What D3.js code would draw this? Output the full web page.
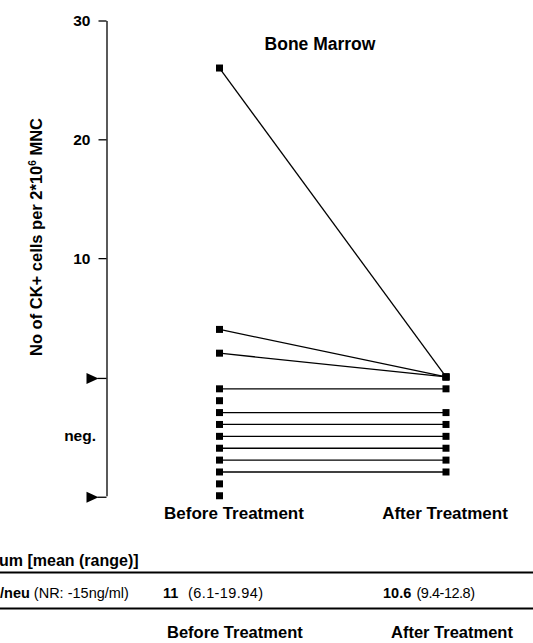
<!DOCTYPE html>
<html>
<head>
<meta charset="utf-8">
<script src="https://cdn.jsdelivr.net/npm/d3@7"></script>
<style>
  body { margin: 0; background: #fff; }
  svg { display: block; font-family: "Liberation Sans", Arial, Helvetica, sans-serif; }
  .domain, .tick line { stroke: #000; }
</style>
</head>
<body>
<svg id="chart"></svg>
<script>
// data (negative values = ranks inside the "neg." zone)
let groups = ["Before Treatment", "After Treatment"];
let before = [26, 4, 2, -1, -2, -3, -4, -5, -6, -7, -8, -9, -10];
let after  = [0, 0, 0, -1, null, -3, -4, -5, -6, -7, -8, null, null];
let yTicks = [10, 20, 30];
let arrowTicks = [0, -10];

// serum table below the plot
let tableHeader = "um [mean (range)]";
let rowName = ["/neu", " (NR: -15ng/ml)"];
let beforeMean = ["11", "(6.1-19.94)"];
let afterMean = ["10.6", "(9.4-12.8)"];

let width = 533, height = 643;
let svg = d3.select("#chart").attr("width", width).attr("height", height);

let x = d3.scalePoint()
  .domain(groups)
  .range([219.5, 446]);

let y = d3.scaleLinear()
  .domain([-10, 30])
  .range([495.75, 20.5]);

let axisX = 106.5;

// y axis
let yaxis = d3.axisLeft(y)
  .tickValues(yTicks)
  .tickSize(8)
  .tickSizeOuter(0)
  .tickPadding(8)
  .tickFormat(d3.format("d"));

let gy = svg.append("g")
  .attr("transform", `translate(${axisX},0)`)
  .call(yaxis);
gy.select(".domain").attr("stroke-width", 1.3);
gy.selectAll(".tick line").attr("stroke-width", 1.3);
gy.selectAll(".tick text")
  .attr("fill", "#000")
  .style("font-size", "15.5px")
  .style("font-weight", "bold");

// arrows marking the neg. zone
let arrows = svg.append("g").selectAll("g")
  .data(arrowTicks)
  .enter()
  .append("g")
  .attr("transform", d => `translate(${axisX},${y(d) + 1.5})`);
arrows.append("line")
  .attr("x1", -9).attr("x2", 0)
  .attr("stroke", "#000").attr("stroke-width", 1.3);
arrows.append("path")
  .attr("d", "M-20,-5.5L-8,0L-20,5.5Z")
  .attr("fill", "#000");

svg.append("text")
  .attr("x", 96)
  .attr("y", y(-5) + 5)
  .attr("text-anchor", "end")
  .style("font-size", "15.5px")
  .style("font-weight", "bold")
  .text("neg.");

// y label
let ylab = svg.append("text")
  .attr("transform", "translate(42,237) rotate(-90)")
  .attr("text-anchor", "middle")
  .style("font-size", "16.5px")
  .style("font-weight", "bold");
ylab.append("tspan").text("No of CK+ cells per 2*10");
ylab.append("tspan").attr("dy", -6).style("font-size", "10px").text("6");
ylab.append("tspan").attr("dy", 6).text(" MNC");

// title
svg.append("text")
  .attr("x", 320)
  .attr("y", 50)
  .attr("text-anchor", "middle")
  .style("font-size", "17.5px")
  .style("font-weight", "bold")
  .text("Bone Marrow");

// paired lines
let pairs = before.map((b, i) => ({b: b, a: after[i]})).filter(d => d.a !== null);
svg.append("g").selectAll("line")
  .data(pairs)
  .enter()
  .append("line")
  .attr("x1", x(groups[0])).attr("y1", d => y(d.b))
  .attr("x2", x(groups[1])).attr("y2", d => y(d.a))
  .attr("stroke", "#000")
  .attr("stroke-width", 1.3);

// markers
let s = 7;
svg.append("g").selectAll("rect")
  .data(before)
  .enter()
  .append("rect")
  .attr("x", x(groups[0]) - s / 2)
  .attr("y", d => y(d) - s / 2)
  .attr("width", s).attr("height", s)
  .attr("fill", "#000");

svg.append("g").selectAll("rect")
  .data(after.filter(d => d !== null))
  .enter()
  .append("rect")
  .attr("x", x(groups[1]) - s / 2)
  .attr("y", d => y(d) - s / 2)
  .attr("width", s).attr("height", s)
  .attr("fill", "#000");

// group labels under the plot
svg.append("g").selectAll("text")
  .data(groups)
  .enter()
  .append("text")
  .attr("x", (d, i) => x(d) + (i == 0 ? 14.5 : -1))
  .attr("y", 519)
  .attr("text-anchor", "middle")
  .style("font-size", "17px")
  .style("font-weight", "bold")
  .text(d => d);

// table
svg.append("text")
  .attr("x", -1).attr("y", 566)
  .style("font-size", "16px")
  .style("font-weight", "bold")
  .text(tableHeader);

[572.5, 608.5].forEach(ly => {
  svg.append("line")
    .attr("x1", 0).attr("x2", width)
    .attr("y1", ly).attr("y2", ly)
    .attr("stroke", "#000").attr("stroke-width", 2.2);
});

let row = svg.append("text")
  .attr("x", 0).attr("y", 598)
  .style("font-size", "14.5px");
row.append("tspan").style("font-weight", "bold").text(rowName[0]);
row.append("tspan").text(rowName[1]);

function cell(x0, x1, vals, w) {
  svg.append("text").attr("x", x0).attr("y", 598)
    .style("font-size", "14.5px").style("font-weight", "bold").text(vals[0]);
  svg.append("text").attr("x", x1).attr("y", 598)
    .attr("textLength", w).attr("lengthAdjust", "spacing")
    .style("font-size", "14.5px").text(vals[1]);
}
cell(163, 188, beforeMean, 75);
cell(383, 416.5, afterMean, 58.5);

svg.append("g").selectAll("text")
  .data(groups)
  .enter()
  .append("text")
  .attr("x", (d, i) => i == 0 ? 167 : 391)
  .attr("y", 638)
  .style("font-size", "16.5px")
  .style("font-weight", "bold")
  .text(d => d);
</script>
</body>
</html>
